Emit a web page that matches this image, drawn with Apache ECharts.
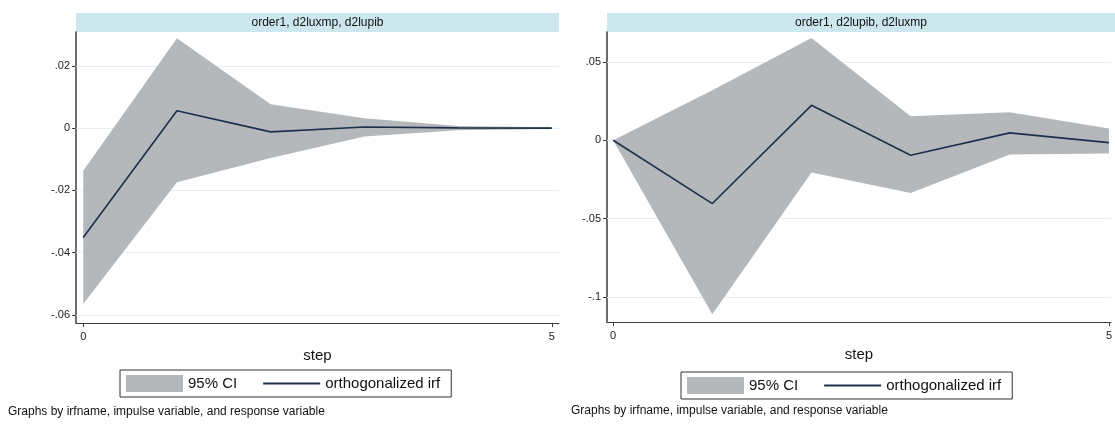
<!DOCTYPE html>
<html>
<head>
<meta charset="utf-8">
<script src="https://cdn.jsdelivr.net/npm/echarts@6/dist/echarts.min.js"></script>
<style>
html,body{margin:0;padding:0;background:#fff;}
#c{width:1115px;height:424px;}
</style>
</head>
<body>
<div id="c"></div>
<script>
// ---- data ----
const steps = [0, 1, 2, 3, 4, 5];
const stepTicks = [0, 5];

const titleA = 'order1, d2luxmp, d2lupib';
const irfA   = [-0.0351, 0.0056, -0.0012, 0.0004, 0.0001, 0.0000];
const upperA = [-0.0137, 0.0289, 0.0077, 0.0032, 0.0007, 0.0003];
const lowerA = [-0.0565, -0.0174, -0.0096, -0.0027, -0.0007, -0.0003];
const yTicksA = [-0.06, -0.04, -0.02, 0, 0.02];

const titleB = 'order1, d2lupib, d2luxmp';
const irfB   = [0, -0.0404, 0.0223, -0.0096, 0.0047, -0.0015];
const upperB = [0, 0.0320, 0.0653, 0.0153, 0.0179, 0.0075];
const lowerB = [0, -0.1110, -0.0206, -0.0336, -0.0091, -0.0085];
const yTicksB = [-0.1, -0.05, 0, 0.05];

const ciName = '95% CI';
const irfName = 'orthogonalized irf';
const xName = 'step';
const footer = 'Graphs by irfname, impulse variable, and response variable';

// ---- styles ----
const FONT = 'Liberation Sans, Arial, sans-serif';
const CI_COLOR = '#b5b8ba';
const LINE_COLOR = '#1c2f4d';
const AXIS_COLOR = '#3c3c3c';
const GRID_COLOR = '#e6f0f4';
const HEAD_COLOR = '#cde7ef';
const LINE_ICON = 'path://M0,0H52V1.6H0Z';

function fmtY(v) {
  if (v === 0) return '0';
  return String(v).replace('0.', '.');
}

function bandRender(upper, lower) {
  return function (params, api) {
    if (params.dataIndex !== 0) return;
    const pts = [];
    for (let i = 0; i < steps.length; i++) pts.push(api.coord([steps[i], upper[i]]));
    for (let i = steps.length - 1; i >= 0; i--) pts.push(api.coord([steps[i], lower[i]]));
    return { type: 'polygon', shape: { points: pts }, style: { fill: api.visual('color') } };
  };
}

const chart = echarts.init(document.getElementById('c'), null, { renderer: 'canvas' });

const grids = [
  { left: 76, top: 32, width: 483, height: 291 },
  { left: 607, top: 32, width: 508, height: 290 }
];

function xAxisFor(gi, min, max) {
  return {
    type: 'value', gridIndex: gi, min: min, max: max,
    name: xName, nameLocation: 'middle', nameGap: 25,
    nameTextStyle: { fontFamily: FONT, fontSize: 15, color: '#111' },
    axisLine: { show: true, onZero: false, lineStyle: { color: AXIS_COLOR, width: 1.2 } },
    axisTick: { show: true, length: 4, customValues: stepTicks, lineStyle: { color: AXIS_COLOR } },
    axisLabel: { customValues: stepTicks, margin: 8, fontFamily: FONT, fontSize: 11, color: '#222' },
    splitLine: { show: false }
  };
}
function yAxisFor(gi, min, max, ticks) {
  return {
    type: 'value', gridIndex: gi, min: min, max: max,
    axisLine: { show: true, onZero: false, lineStyle: { color: AXIS_COLOR, width: 1.5 } },
    axisTick: { show: true, length: 4, customValues: ticks, lineStyle: { color: AXIS_COLOR } },
    axisLabel: { customValues: ticks, margin: 6, fontFamily: FONT, fontSize: 11, color: '#222', formatter: fmtY },
    splitLine: { show: false }
  };
}

function gridLines(ticks) {
  return {
    silent: true, symbol: 'none', label: { show: false }, z: 1,
    lineStyle: { color: GRID_COLOR, type: 'solid', width: 1 },
    emphasis: { disabled: true },
    data: ticks.map(t => ({ yAxis: t }))
  };
}

function panelSeries(gi, irf, upper, lower, ticks) {
  return [
    {
      name: ciName, type: 'custom', xAxisIndex: gi, yAxisIndex: gi,
      itemStyle: { color: CI_COLOR }, clip: true, z: 2,
      data: steps.map((s, i) => [s, lower[i], upper[i]]),
      encode: { x: 0, y: [1, 2] },
      renderItem: bandRender(upper, lower)
    },
    {
      name: irfName, type: 'line', xAxisIndex: gi, yAxisIndex: gi,
      symbol: 'none', showSymbol: false, z: 3,
      lineStyle: { color: LINE_COLOR, width: 1.6 },
      itemStyle: { color: LINE_COLOR },
      data: steps.map((s, i) => [s, irf[i]]),
      markLine: gridLines(ticks)
    }
  ];
}

function legendAt(left, top) {
  return {
    left: left, top: top, orient: 'horizontal',
    padding: [5, 11, 5, 6], itemGap: 26, itemWidth: 57, itemHeight: 17,
    borderColor: '#333', borderWidth: 1, backgroundColor: '#fff',
    selectedMode: false, symbolKeepAspect: true,
    textStyle: { fontFamily: FONT, fontSize: 15, color: '#111' },
    data: [
      { name: ciName, icon: 'rect' },
      { name: irfName, icon: LINE_ICON, itemStyle: { color: LINE_COLOR, borderWidth: 0 } }
    ]
  };
}

function header(x, w, text) {
  return [
    { type: 'rect', left: x, top: 13, shape: { width: w, height: 19 }, style: { fill: HEAD_COLOR }, z: 0 },
    { type: 'text', x: x + w / 2, y: 22.5, style: { text: text, font: '12px ' + FONT, fill: '#111', textAlign: 'center', textVerticalAlign: 'middle' }, z: 1 }
  ];
}

const option = {
  backgroundColor: '#ffffff',
  animation: false,
  grid: grids,
  xAxis: [xAxisFor(0, -0.077, 5.077), xAxisFor(1, -0.062, 5.02)],
  yAxis: [yAxisFor(0, -0.0626, 0.0309, yTicksA), yAxisFor(1, -0.116, 0.0691, yTicksB)],
  legend: [legendAt(120, 370), legendAt(681, 372)],
  series: [].concat(panelSeries(0, irfA, upperA, lowerA, yTicksA), panelSeries(1, irfB, upperB, lowerB, yTicksB)),
  graphic: [].concat(
    header(76, 483, titleA),
    header(607, 508, titleB),
    [
      { type: 'text', x: 8, y: 412, style: { text: footer, font: '12px ' + FONT, fill: '#111', textVerticalAlign: 'middle' } },
      { type: 'text', x: 571, y: 411, style: { text: footer, font: '12px ' + FONT, fill: '#111', textVerticalAlign: 'middle' } }
    ]
  )
};
chart.setOption(option);
</script>
</body>
</html>
